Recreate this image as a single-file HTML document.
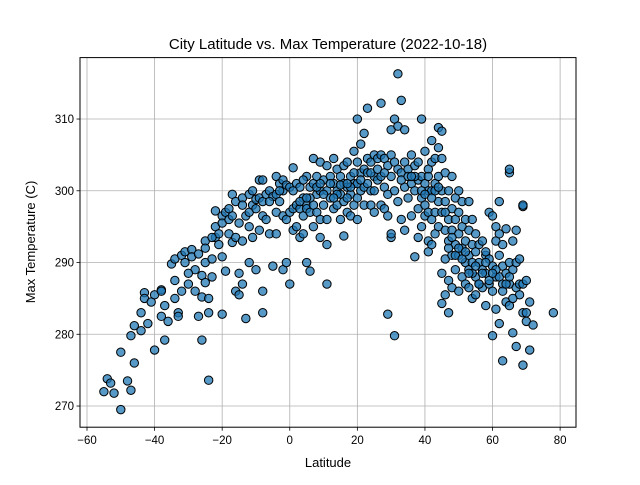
<!DOCTYPE html>
<html><head><meta charset="utf-8"><style>
body{margin:0;background:#fff;}
svg text{font-family:"Liberation Sans","DejaVu Sans",sans-serif;fill:#000;}
</style></head><body>
<svg id="chart" width="640" height="480" xmlns="http://www.w3.org/2000/svg">
<rect width="640" height="480" fill="#fff"/>
<g id="grid"></g>
<g id="points"></g>
<rect x="80" y="57.6" width="496" height="369.6" fill="none" stroke="#000" stroke-width="1"/>
<g id="ticks"></g>
<text x="328" y="49" text-anchor="middle" font-size="15">City Latitude vs. Max Temperature (2022-10-18)</text>
<text x="328" y="467" text-anchor="middle" font-size="13">Latitude</text>
<text transform="translate(35,242) rotate(-90)" text-anchor="middle" font-size="13">Max Temperature (C)</text>
</svg>
<script>
const xTicks=[-60,-40,-20,0,20,40,60,80];
const yTicks=[270,280,290,300,310];
const lats=[-55,-54,-53,-52,-50,-50,-48,-47,-47,-46,-46,-44,-44,-43,-43,-42,-41,-40,-40,-38,-38,-38,-37,-37,-36,-35,-34,-34,-34,-33,-33,-32,-32,-31,-31,-30,-29,-29,-28,-28,-27,-27,-26,-26,-26,-25,-25,-25,-25,-24,-24,-24,-23,-23,-22,-22,-22,-21,-21,-20,-20,-20,-20,
-19,-19,-18,-18,-17,-17,-17,-16,-16,-16,-15,-15,-15,-14,-14,-14,-13,-13,-12,-12,-12,-12,-11,-11,-11,-10,-10,-9,-9,-9,-8,-8,-8,-8,-8,-7,-7,-6,-6,-5,-5,-4,-4,-4,-4,-3,-3,-2,-2,-2,-2,-1,-1,-1,0,0,0,1,1,1,
2,2,2,3,3,3,4,4,4,5,5,5,5,6,6,6,7,7,7,7,8,8,8,9,9,9,9,10,10,11,11,11,11,11,12,12,13,13,13,14,14,14,15,15,15,16,16,16,16,17,17,17,18,18,18,19,19,19,20,20,20,20,20,21,21,21,22,22,22,22,23,23,23,24,24,24,25,25,25,26,26,27,27,27,27,28,28,28,29,29,29,29,30,30,30,30,30,31,31,31,31,32,32,32,32,33,33,33,34,34,34,34,35,35,36,36,36,37,37,37,38,38,38,38,39,39,39,39,40,40,40,40,41,41,41,41,41,
42,42,42,42,42,43,43,43,43,44,44,44,44,44,45,45,45,45,45,45,46,46,46,46,46,47,47,47,47,47,48,48,48,48,48,49,49,49,49,50,50,50,50,50,51,51,51,51,52,52,52,52,53,53,53,53,53,54,54,54,54,55,55,55,55,56,56,56,57,57,57,58,58,58,59,59,59,60,60,60,60,61,61,61,61,62,62,62,62,62,63,63,63,63,64,64,64,65,65,65,65,65,66,66,66,67,67,67,67,68,68,68,69,69,69,69,69,70,70,70,71,71,72,78,
-10,-6,-3,1,3,4,6,8,10,12,14,15,17,18,19,21,23,24,26,28,33,35,37,39,40,41,42,43,44,46,47,48,49,50,51,52,54,55,56,57,58,59,61,63,64,66,-18,-14,-23,-30,5,9,13,17,25,36,53,58,60,65];
const temps=[272,273.8,273.2,271.8,269.5,277.5,273.5,272.2,279.8,281.2,276,283,280.5,285.8,285,281.5,284.5,277.8,285.5,286.2,286,282.5,279.2,284,281.8,289.8,290.5,287.5,285,283,282.5,291,286,291.5,290,287,291.8,290.8,289,286,291.2,282.5,279.2,288.2,285.2,293,292,290,287.2,285,273.6,283,290.5,288,297.2,295,293.5,294,292.5,296.5,295.5,290.8,282.8,
297,288.8,296,294,299.5,296.5,292.8,298.5,293.5,286,295.5,288.5,285.5,299,293,287,296.5,282.2,299.5,297,295,290,300,298,293.5,298.8,289,301.5,299,294.5,301.5,298.5,296.5,286,283,299.5,296,300,294,299.2,289.5,302,299.5,297,294,301,298.5,301.5,300,296.5,289,300.8,296,290,300.5,297,287,303.2,297.5,294.5,
301,298,295,300.5,297.5,293.5,299,296.5,294,302,298,297.5,290,300.5,297,288.8,304.5,301,298,295,302,299.5,297,304,300,296,293.5,301.5,298,303.5,300,296,292.5,287,302,299,304.5,301,297.5,303,300,298,302,299.5,296,303.5,301,298.5,293.7,304,300.5,297,302,299.5,296.5,305.5,301,298,304,301,299,296,310,306.5,302.5,300,308,303,300.5,298,311.5,304.5,301,304,300,298,305,302,297,304.5,301.5,312.2,305,302,298,304.5,300.5,297.5,303.5,299.5,296.5,282.8,305,302,293.5,294,308.5,310,304,300,279.8,316.3,309,303,298.5,312.6,302.5,296,308.5,304,300.5,294.5,303,299,305,301,296.5,303.5,300,290.8,304,301.5,297.5,293.5,310,302,299,295,305.5,301,298,296.5,303,300,297,293,291.5,
307,304,300,296,292.5,304.5,301,297,294,308.8,306,302,298.5,295,308.3,304.5,300,297,288.5,284.3,302.5,298.5,294.5,290.5,285.5,300,296,293,287.5,283,302,297.5,294.5,291,286.5,299,296,292.5,289,300,297,294,291,286,298.5,295,292,288,296,293,290,287,298.5,294.5,291,289,286.5,296,292.5,290,285,294,291.5,288,285.5,292.5,290,287,293,289,286.5,291,288.5,284,297,290.5,287,296.5,289.5,286,279.8,295,293,288,283.5,298.5,294,291,288,281.5,292.5,289.5,287,276.3,294.7,288.5,284.5,302.5,303,290,287,284,293,289,280.2,294.5,290,286.5,278.3,290.5,287,285.5,297.8,298,287,283,275.7,287.5,283,281.8,284.5,277.8,281.3,283,
297.5,298.5,300,300,298.5,301.5,299,300.5,299.5,301,299.5,300.8,299,300.5,302.5,301.5,302.5,302.5,303,302.5,301.5,302,302,300,299.5,302,299,300,300.5,297,292,293.5,291,292,290.5,291.5,288.5,289.5,287,288.5,290,287.5,289,286,287,285,297.5,298,293.5,288.5,299,301,299,301,300,302,288.5,291.5,288.5,288];
const X0=80,X1=576,Y0=427.2,Y1=57.6,xmin=-62.07,xmax=84.7,ymin=267.05,ymax=318.56;
const sx=v=>X0+(v-xmin)/(xmax-xmin)*(X1-X0);
const sy=v=>Y0-(v-ymin)/(ymax-ymin)*(Y0-Y1);
const NS='http://www.w3.org/2000/svg';
const grid=document.getElementById('grid'),ticks=document.getElementById('ticks'),pts=document.getElementById('points');
function mk(t,a){const e=document.createElementNS(NS,t);for(const k in a)e.setAttribute(k,a[k]);return e;}
xTicks.forEach(v=>{const x=sx(v);
 const g=mk('line',{x1:x,x2:x,y1:Y1,y2:Y0,stroke:'#b0b0b0','stroke-width':0.8});
 
 grid.appendChild(g);
 const t=mk('line',{x1:x,x2:x,y1:Y0,y2:Y0+3.5,stroke:'#000','stroke-width':0.8});
 
 ticks.appendChild(t);
 const l=mk('text',{x:x,y:Y0+17,'text-anchor':'middle','font-size':11.5});l.textContent=v<0?'\u2212'+(-v):v;
 
 ticks.appendChild(l);});
yTicks.forEach(v=>{const y=sy(v);
 const g=mk('line',{x1:X0,x2:X1,y1:y,y2:y,stroke:'#b0b0b0','stroke-width':0.8});
 
 grid.appendChild(g);
 const t=mk('line',{x1:X0-3.5,x2:X0,y1:y,y2:y,stroke:'#000','stroke-width':0.8});
 
 ticks.appendChild(t);
 const l=mk('text',{x:X0-6,y:y+4,'text-anchor':'end','font-size':11.5});l.textContent=v;
 
 ticks.appendChild(l);});
lats.forEach((la,i)=>{const c=mk('circle',{cx:sx(la),cy:sy(temps[i]),r:4.2,fill:'#1f77b4','fill-opacity':0.75,stroke:'#000','stroke-width':1});
 
 pts.appendChild(c);});
</script>
</body></html>
